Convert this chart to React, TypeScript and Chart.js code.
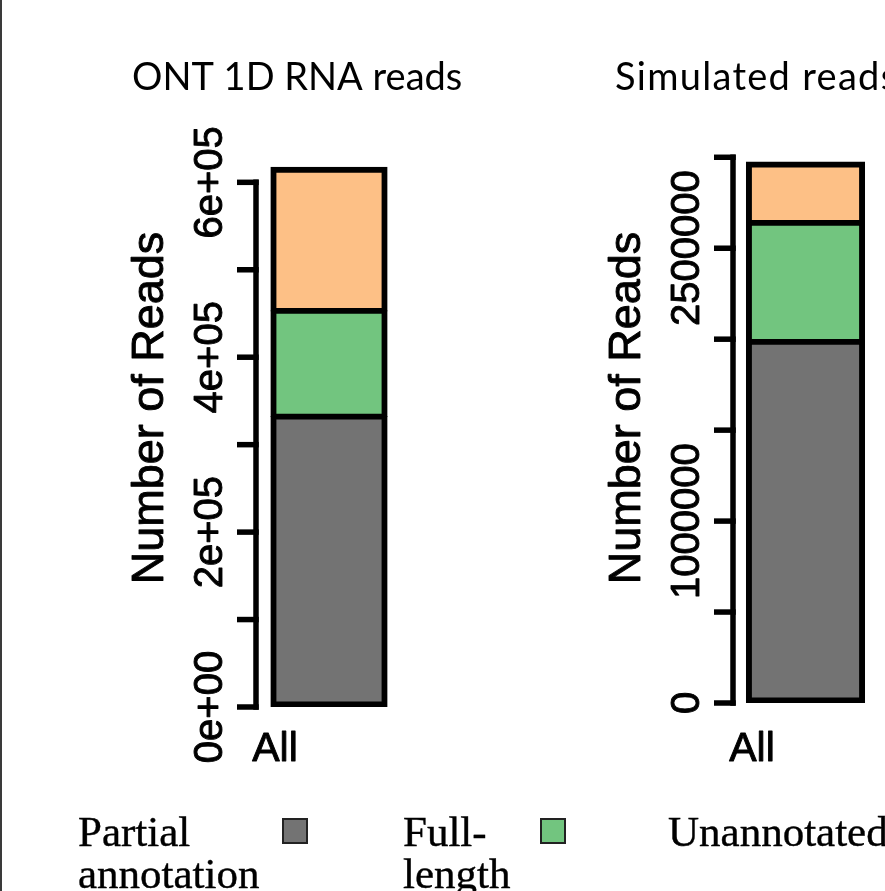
import React, { useEffect, useRef } from "react";
import { Chart, registerables } from "chart.js";

Chart.register(...registerables);

// ---------------- data ----------------
const CATEGORIES = ["All"];
const SERIES_NAMES = ["Partial annotation", "Full-length", "Unannotated"];
const SERIES_COLORS = ["#737373", "#72C57F", "#FDC086"];
const Y_TITLE = "Number of Reads";

const ONT_TITLE = "ONT 1D RNA reads";
const ONT_PARTIAL = [332000];
const ONT_FULL = [121000];
const ONT_UNANNOTATED = [164000];
const ONT_TICKS = [0, 100000, 200000, 300000, 400000, 500000, 600000];
const ONT_TICK_LABELS = ["0e+00", "", "2e+05", "", "4e+05", "", "6e+05"];

const SIM_TITLE = "Simulated reads";
const SIM_PARTIAL = [1985000];
const SIM_FULL = [654000];
const SIM_UNANNOTATED = [335000];
const SIM_TICKS = [0, 500000, 1000000, 1500000, 2000000, 2500000, 3000000];
const SIM_TICK_LABELS = ["0", "", "1000000", "", "", "2500000", ""];

// ---------------- R-style axis plugin ----------------
function heavyText(ctx: CanvasRenderingContext2D, s: string, x: number, y: number, w: number) {
  ctx.fillText(s, x, y);
  if (w > 0) {
    ctx.lineWidth = w;
    ctx.lineJoin = "round";
    ctx.strokeText(s, x, y);
  }
}

const rAxisPlugin = {
  id: "rAxis",
  afterDraw(chart: any, _args: any, o: any) {
    const { ctx, chartArea, scales } = chart;
    const ys = scales.y;
    const ax = chartArea.left - o.axisGap;
    const yTop = ys.getPixelForValue(o.ticks[o.ticks.length - 1]);
    const yBot = ys.getPixelForValue(o.ticks[0]);
    ctx.save();
    ctx.strokeStyle = "#000";
    ctx.fillStyle = "#000";
    ctx.lineWidth = o.lineWidth;
    ctx.lineCap = "square";
    ctx.beginPath();
    ctx.moveTo(ax, yTop);
    ctx.lineTo(ax, yBot);
    ctx.stroke();
    ctx.lineCap = "butt";
    o.ticks.forEach((v: number) => {
      const py = ys.getPixelForValue(v);
      ctx.beginPath();
      ctx.moveTo(ax + o.lineWidth / 2, py);
      ctx.lineTo(ax - o.tickLen, py);
      ctx.stroke();
    });
    ctx.textAlign = "center";
    ctx.textBaseline = "alphabetic";
    ctx.font = `${o.tickFont}px "Liberation Sans", Arial, sans-serif`;
    o.ticks.forEach((v: number, i: number) => {
      const lab = o.labels[i];
      if (!lab) return;
      const py = ys.getPixelForValue(v);
      ctx.save();
      ctx.translate(ax - o.labelDist, py);
      ctx.rotate(-Math.PI / 2);
      heavyText(ctx, lab, 0, 0, o.textStroke);
      ctx.restore();
    });
    // y-axis title
    ctx.font = `${o.yTitleFont}px "Liberation Sans", Arial, sans-serif`;
    ctx.save();
    ctx.translate(ax - o.yTitleDist, o.yTitleCenter);
    ctx.rotate(-Math.PI / 2);
    heavyText(ctx, o.yTitle, 0, 0, o.textStroke);
    ctx.restore();
    // category name
    ctx.font = `${o.catFont}px "Liberation Sans", Arial, sans-serif`;
    heavyText(ctx, o.category, ax + o.catDx, o.catBaseline, o.textStroke);
    // main title
    ctx.font = `${o.mainFont}px Lato, "Open Sans", sans-serif`;
    ctx.textAlign = "left";
    (ctx as any).letterSpacing = `${o.titleSpacing}px`;
    ctx.fillText(o.title, ax + o.titleDx, o.titleBaseline);
    (ctx as any).letterSpacing = "0px";
    ctx.restore();
  },
};

type PanelProps = {
  left: number;
  width: number;
  height: number;
  title: string;
  titleDx: number;
  titleSpacing: number;
  partial: number[];
  full: number[];
  unannotated: number[];
  ticks: number[];
  tickLabels: string[];
  layout: { top: number; bottom: number; left: number; right: number; max: number; bar: number };
};

function Panel(p: PanelProps) {
  const ref = useRef<HTMLCanvasElement | null>(null);
  useEffect(() => {
    if (!ref.current) return;
    const series = [p.partial, p.full, p.unannotated];
    const n = series.length;
    const chart = new Chart(ref.current, {
      type: "bar",
      data: {
        labels: CATEGORIES,
        datasets: series.map((vals, i) => ({
          label: SERIES_NAMES[i],
          data: vals,
          backgroundColor: SERIES_COLORS[i],
          borderColor: "#000",
          borderWidth: {
            left: 6,
            right: 6,
            top: i === n - 1 ? 6 : 3.5,
            bottom: i === 0 ? 6 : 3.5,
          },
          borderSkipped: false,
          barThickness: p.layout.bar,
          inflateAmount: 0.6,
        })),
      },
      options: {
        responsive: false,
        animation: false,
        layout: {
          padding: { top: p.layout.top, bottom: p.layout.bottom, left: p.layout.left, right: p.layout.right },
        },
        plugins: {
          legend: { display: false },
          tooltip: { enabled: false },
          title: { display: false },
          rAxis: {
            axisGap: 7,
            lineWidth: 5.5,
            tickLen: 19,
            ticks: p.ticks,
            labels: p.tickLabels,
            tickFont: 40,
            labelDist: 34,
            textStroke: 0.9,
            yTitle: Y_TITLE,
            yTitleFont: 45,
            yTitleDist: 93,
            yTitleCenter: 408,
            category: CATEGORIES[0],
            catFont: 41,
            catDx: 19,
            catBaseline: 761,
            title: p.title,
            mainFont: 38,
            titleDx: p.titleDx,
            titleSpacing: p.titleSpacing,
            titleBaseline: 90,
          },
        } as any,
        scales: {
          x: { stacked: true, display: false },
          y: { stacked: true, display: false, min: 0, max: p.layout.max },
        },
      },
      plugins: [rAxisPlugin as any],
    });
    return () => chart.destroy();
  }, []);
  return (
    <canvas
      ref={ref}
      width={p.width}
      height={p.height}
      style={{ position: "absolute", left: p.left, top: 0, width: p.width, height: p.height }}
    />
  );
}

const LEGEND_ITEMS_X = [78, 403, 668];
const LEGEND_TEXT_W = [204, 137, 240];

export default function App() {
  return (
    <div
      style={{
        position: "absolute",
        left: 0,
        top: 0,
        width: 885,
        height: 891,
        overflow: "hidden",
        background: "#fff",
      }}
    >
      <div style={{ position: "absolute", left: 0, top: 0, width: 2, height: 891, background: "#3a3a3a" }} />
      <Panel
        left={0}
        width={620}
        height={891}
        title={ONT_TITLE}
        titleDx={-124}
        titleSpacing={0}
        partial={ONT_PARTIAL}
        full={ONT_FULL}
        unannotated={ONT_UNANNOTATED}
        ticks={ONT_TICKS}
        tickLabels={ONT_TICK_LABELS}
        layout={{ top: 138.6, bottom: 184, left: 263, right: 225, max: 650000, bar: 116 }}
      />
      <Panel
        left={442}
        width={443}
        height={891}
        title={SIM_TITLE}
        titleDx={-118}
        titleSpacing={1.3}
        partial={SIM_PARTIAL}
        full={SIM_FULL}
        unannotated={SIM_UNANNOTATED}
        ticks={SIM_TICKS}
        tickLabels={SIM_TICK_LABELS}
        layout={{ top: 120.9, bottom: 188, left: 298, right: 14, max: 3200000, bar: 118 }}
      />
      {SERIES_NAMES.map((name, i) => (
        <div
          key={name}
          style={{
            position: "absolute",
            left: LEGEND_ITEMS_X[i],
            top: 810.5,
            display: "flex",
            alignItems: "flex-start",
            whiteSpace: "normal",
          }}
        >
          <div
            style={{
              width: LEGEND_TEXT_W[i],
              fontFamily: '"Liberation Serif", "Times New Roman", serif',
              fontSize: 43,
              lineHeight: "42px",
              color: "#000",
              WebkitTextStroke: "0.4px #000",
            }}
          >
            {name}
          </div>
          <div
            style={{
              width: 22,
              height: 22,
              marginTop: 7,
              border: "2px solid #222",
              background: SERIES_COLORS[i],
              flex: "none",
            }}
          />
        </div>
      ))}
    </div>
  );
}
